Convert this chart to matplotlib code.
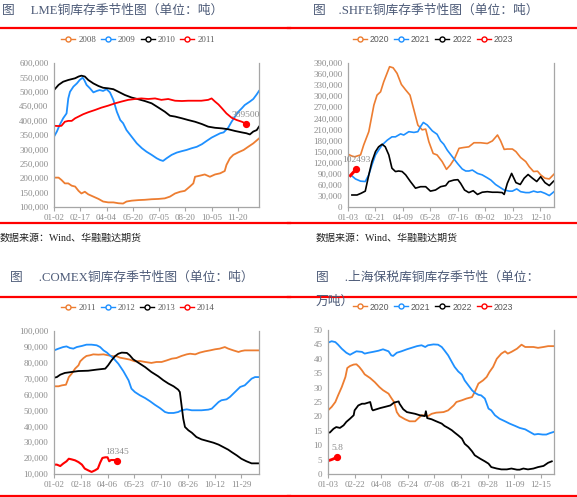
import matplotlib
matplotlib.use('Agg')
import matplotlib.pyplot as plt
from matplotlib.lines import Line2D
from matplotlib.ticker import FuncFormatter, FixedLocator
import numpy as np

# ---------------- data ----------------
# LME (x: days since 01-02, y: thousand tonnes)
lme_ticks = ['01-02', '02-17', '04-04', '05-20', '07-05', '08-20', '10-05', '11-20']
lme_2008_day = [0, 8, 13, 19, 25, 31, 37, 43, 48, 54, 60, 69, 78, 86, 95, 104, 113, 121, 127, 136,
                148, 159, 171, 183, 194, 203, 212, 221, 229, 238, 244, 247, 256, 264, 273, 282, 291, 299, 302, 308,
                314, 323, 332, 340, 349, 359]
lme_2008 = [202, 202, 194, 182, 182, 174, 171, 156, 147, 153, 144, 136, 128, 119, 116, 116, 113, 112, 119, 122,
            124, 125, 127, 128, 130, 136, 147, 153, 156, 171, 182, 205, 209, 213, 205, 213, 217, 225, 246, 269,
            281, 290, 298, 309, 321, 338]
lme_2009_day = [0, 5, 10, 16, 22, 25, 28, 34, 40, 45, 50, 53, 57, 63, 69, 75, 80, 86, 92, 98,
                104, 110, 116, 121, 127, 136, 145, 154, 162, 171, 180, 186, 191, 197, 206, 215, 224, 232, 241, 250,
                259, 267, 276, 285, 291, 297, 305, 311, 317, 323, 329, 334, 343, 349, 355, 359]
lme_2009 = [344, 362, 385, 408, 425, 477, 500, 518, 529, 541, 549, 541, 524, 512, 498, 503, 506, 503, 509, 498,
            472, 431, 402, 391, 367, 344, 321, 304, 292, 281, 269, 263, 260, 269, 281, 289, 294, 298, 304, 309,
            318, 329, 341, 350, 356, 359, 375, 396, 414, 431, 443, 454, 466, 475, 491, 503]
lme_2010_day = [0, 8, 16, 25, 37, 43, 48, 54, 60, 69, 78, 86, 95, 104, 113, 124, 136, 148, 159, 171,
                183, 194, 203, 212, 224, 235, 247, 259, 270, 282, 294, 305, 317, 329, 337, 343, 349, 355, 359]
lme_2010 = [506, 524, 535, 541, 547, 553, 556, 553, 541, 529, 520, 514, 512, 509, 500, 489, 480, 474, 468, 460,
            445, 431, 417, 414, 408, 402, 396, 388, 379, 375, 373, 370, 364, 359, 356, 352, 362, 367, 379]
lme_2011_day = [0, 8, 13, 19, 25, 31, 37, 43, 51, 60, 72, 83, 95, 107, 118, 130, 142, 153, 165, 177,
                188, 200, 212, 224, 235, 247, 258, 270, 276, 282, 288, 294, 302, 311, 320, 329, 336]
lme_2011 = [382, 381, 382, 396, 399, 399, 408, 414, 422, 429, 437, 445, 452, 460, 466, 472, 475, 477, 475, 477,
            472, 475, 469, 468, 469, 469, 469, 472, 477, 466, 456, 443, 425, 410, 402, 396, 389.5]

# SHFE (x: weeks since 01-03, y: thousand tonnes)
shfe_ticks = ['01-03', '02-21', '04-09', '05-28', '07-16', '09-02', '10-23', '12-10']
shfe_2020_wk = [0, 1, 1.7, 3.2, 4, 5.3, 6.6, 7.4, 8.3, 9.1, 10.6, 11.5, 12.5, 13.6, 14.7, 15.8, 16.8, 17.8, 18.9, 19.8,
                20.6, 21.7, 22.7, 24, 25.1, 26.1, 27.2, 28.3, 29.4, 30.8, 32.1, 33.8, 35.5, 36.8, 38.1, 38.9, 39.8,
                40.6, 41.9, 42.8, 44, 45.3, 46.2, 47.3, 48.3, 49.1, 50.2, 51.3, 52.5]
shfe_2020 = [143, 138, 136, 141, 168, 204, 276, 303, 312, 339, 380, 377, 362, 332, 317, 303, 263, 222, 209, 211,
             177, 145, 141, 123, 102, 114, 132, 159, 161, 163, 174, 174, 172, 179, 195, 179, 156, 157, 157, 150,
             134, 123, 109, 96, 97, 87, 78, 76, 89]
shfe_2021_wk = [0.8, 1.9, 3.2, 4.4, 5.3, 6.1, 7, 7.8, 8.7, 10, 11.2, 12.1, 13.4, 14.2, 15.5, 16.8, 17.8, 18.5, 19.2, 20.2,
                21.5, 22.7, 23.6, 24.4, 25.3, 26.6, 27.9, 29.1, 30, 30.8, 31.7, 33, 34.2, 35.5, 36.4, 37.6, 38.9, 39.8,
                41.1, 41.9, 43, 44, 45.3, 46.2, 47.3, 48.3, 49.1, 50.2, 51.3, 52.5]
shfe_2021 = [86, 76, 70, 69, 87, 114, 141, 154, 168, 181, 190, 190, 198, 195, 204, 202, 204, 218, 229, 222,
             206, 197, 179, 170, 154, 136, 118, 103, 97.5, 97.5, 100, 91, 87, 79, 73, 61, 52, 46, 43, 43,
             49, 41.5, 39, 39, 43, 40, 41.5, 37, 31, 41.5]
shfe_2022_wk = [1, 2.3, 3.3, 4.4, 5.3, 6.1, 7, 7.8, 8.7, 9.5, 10.4, 11.2, 12.1, 12.9, 13.8, 14.7, 15.9, 17.2, 18.5, 19.8,
                21, 22.3, 23.6, 24.9, 25.7, 27, 28, 28.7, 29.7, 30.8, 31.9, 33, 34.2, 35.5, 36.8, 38.1, 39.3, 39.8,
                40.6, 41.7, 42.8, 43.9, 44.9, 45.9, 47, 48.1, 49.1, 50.2, 51.3, 52.4]
shfe_2022 = [32.5, 32.5, 37, 43, 87, 123, 150, 163, 170, 163, 141, 105, 96, 97.5, 96, 87, 69, 51, 55, 55,
             43, 46, 55, 58, 69, 73, 74, 64, 46, 39, 44, 34, 40, 41.5, 40, 40, 39, 34, 64, 91,
             66, 61, 78, 88, 78, 69, 82, 66, 58, 70]
shfe_2023_wk = [0.6, 2.1]
shfe_2023 = [85, 102.493]

# COMEX (x: days since 01-02, y: thousand tonnes)
comex_ticks = ['01-02', '02-18', '04-06', '05-23', '07-10', '08-26', '10-12', '11-29']
comex_2011_day = [0, 8, 14, 21, 24, 26, 31, 37, 43, 46, 52, 57, 63, 69, 78, 87, 95, 104, 110, 116,
                  125, 133, 142, 151, 160, 171, 180, 189, 198, 207, 215, 224, 233, 239, 248, 256, 265, 274, 283, 291,
                  300, 306, 315, 324, 329, 335, 344, 359]
comex_2011 = [65.2, 65.2, 65.8, 66.2, 69.0, 71.0, 73.1, 76.3, 78.4, 80.9, 83.0, 84.3, 84.7, 85.3, 85.1, 85.3, 84.7,
              84.1, 84.1, 83.2, 82.6, 82.0, 80.9, 81.1, 80.5, 79.9, 80.5, 80.5, 81.5, 82.6, 83.0, 84.3, 85.3, 85.7,
              85.3, 86.4, 87.2, 87.8, 88.5, 88.9, 89.9, 88.9, 87.8, 86.8, 87.4, 87.8, 87.8, 87.8]
comex_2012_day = [0, 8, 16, 22, 28, 34, 40, 49, 57, 66, 75, 81, 87, 93, 98, 104, 113, 122, 131, 136,
                  142, 151, 160, 169, 177, 186, 195, 201, 210, 218, 224, 233, 242, 250, 259, 271, 277, 283, 289, 294,
                  303, 309, 315, 321, 327, 335, 341, 347, 353, 359]
comex_2012 = [87.8, 88.9, 89.9, 90.3, 89.3, 88.9, 89.9, 90.6, 91.4, 91.4, 91.0, 89.9, 87.8, 86.4, 84.7, 83.0, 79.4,
              74.6, 68.9, 63.7, 61.6, 59.5, 57.8, 55.7, 53.6, 51.5, 49.0, 48.4, 48.4, 49.0, 50.1, 50.7, 50.1, 50.1,
              50.1, 50.5, 51.1, 53.2, 55.3, 56.4, 57.0, 58.5, 60.6, 62.7, 64.8, 65.8, 67.9, 70.0, 71.0, 71.0]
comex_2013_day = [0, 5, 11, 19, 31, 43, 60, 75, 90, 95, 101, 107, 113, 119, 128, 133, 139, 148, 160, 171,
                  183, 192, 201, 210, 218, 221, 224, 227, 230, 236, 242, 250, 259, 271, 280, 289, 297, 306, 312, 321,
                  329, 338, 347, 359]
comex_2013 = [70.6, 71.0, 72.5, 73.6, 74.2, 74.8, 75.0, 75.7, 76.3, 78.4, 81.5, 84.1, 85.7, 86.4, 86.2, 84.7, 82.2,
              80.1, 77.3, 74.2, 71.5, 69.0, 66.9, 65.2, 63.1, 61.6, 53.2, 44.8, 39.6, 37.5, 36.0, 33.3, 31.8, 30.6,
              29.7, 28.5, 27.0, 25.3, 23.8, 21.7, 19.6, 18.0, 16.7, 16.7]
comex_2014_day = [0, 5, 11, 16, 22, 26, 31, 37, 43, 49, 54, 60, 66, 72, 77, 81, 85, 90, 94, 97, 100, 104, 107, 111]
comex_2014 = [15.9, 15.9, 15.0, 16.5, 18.0, 19.6, 19.2, 18.6, 17.5, 15.9, 13.4, 12.3, 11.3, 12.3, 13.4, 17.1, 20.1,
              20.5, 20.5, 18.0, 18.8, 18.8, 18.8, 18.345]

# Shanghai bonded (x: trading-day index, y: 10k tonnes)
sh_ticks = ['01-03', '02-22', '04-08', '05-24', '07-08', '08-21', '09-28', '11-09', '12-15']
sh_2020_idx = [0, 4, 8, 11, 15, 19, 21, 24, 28, 31, 34, 37, 40, 46, 51, 56, 60, 66, 69, 72,
               75, 78, 84, 89, 95, 98, 102, 106, 109, 113, 118, 126, 131, 137, 140, 146, 151, 157, 160, 164,
               169, 173, 176, 180, 184, 189, 193, 196, 200, 206, 211, 215, 218, 224, 229, 235, 240, 246]
sh_2020 = [22.1, 23.3, 25.0, 27.3, 30.2, 33.7, 36.8, 37.5, 38.0, 38.1, 37.2, 36.0, 34.6, 33.3, 31.9, 30.2, 29.1,
           27.9, 26.4, 25.0, 21.5, 20.1, 19.0, 18.3, 18.3, 19.2, 20.4, 20.4, 20.1, 20.9, 21.3, 21.5, 22.1, 23.8,
           25.0, 25.6, 26.2, 26.7, 28.5, 31.4, 32.5, 33.7, 35.4, 37.2, 40.0, 41.8, 42.6, 41.8, 42.4, 43.5, 44.9,
           44.1, 44.1, 44.1, 43.8, 44.1, 44.4, 44.4]
sh_2021_idx = [0, 4, 8, 11, 15, 20, 24, 28, 31, 37, 40, 44, 49, 55, 60, 66, 69, 71, 75, 80,
               86, 91, 97, 102, 106, 109, 115, 120, 124, 127, 131, 135, 138, 142, 146, 149, 153, 157, 160, 164,
               167, 171, 175, 178, 182, 187, 193, 198, 204, 209, 215, 220, 225, 229, 234, 238, 242, 246]
sh_2021 = [45.6, 46.1, 45.8, 44.9, 43.5, 42.1, 41.4, 42.1, 42.6, 42.4, 41.8, 42.1, 42.4, 42.8, 43.3, 42.6, 41.2,
           41.0, 42.1, 42.6, 43.3, 43.8, 44.4, 44.7, 44.1, 44.7, 45.0, 44.9, 44.1, 42.9, 41.2, 38.9, 37.2, 35.6,
           34.5, 32.5, 30.8, 29.1, 28.2, 27.5, 27.3, 26.2, 22.7, 22.1, 20.4, 19.2, 18.3, 17.5, 16.7, 16.0, 15.5,
           14.6, 13.7, 13.9, 13.7, 13.7, 14.2, 14.6]
sh_2022_idx = [0, 2, 6, 9, 13, 17, 20, 24, 28, 29, 33, 37, 40, 44, 46, 48, 49, 53, 57, 62,
               68, 72, 77, 78, 82, 86, 89, 95, 100, 105.6, 106.7, 108.2, 113, 118, 124, 127, 131, 135, 138, 142,
               146, 149, 153, 157, 160, 166, 171, 175, 178, 184, 189, 195, 200, 206, 209, 213, 218, 224, 229, 235,
               240, 244]
sh_2022 = [14.4, 14.4, 15.7, 16.3, 16.0, 16.9, 18.1, 19.2, 20.4, 22.1, 23.8, 24.4, 24.4, 24.8, 25.0, 22.5, 22.1,
           22.5, 22.9, 23.3, 23.8, 24.8, 25.2, 24.4, 22.5, 21.5, 21.3, 20.9, 20.4, 20.1, 21.8, 19.4, 19.0, 18.3,
           17.5, 16.7, 16.0, 15.2, 14.4, 13.4, 12.3, 10.5, 9.4, 7.9, 6.5, 5.3, 4.4, 3.6, 2.4, 1.9, 1.6, 1.6, 1.9,
           1.5, 1.5, 1.9, 1.6, 1.9, 2.4, 2.8, 3.9, 4.4]
sh_2023_idx = [0, 4, 7, 10]
sh_2023 = [4.6, 5.0, 5.4, 5.8]

# ---------------- style ----------------
ORANGE = '#ED7D31'
BLUE = '#1E90FF'
BLACK = '#000000'
RED = '#FF0000'
TITLE_C = '#4d5b78'
TICK_C = '#8c8c8c'
SPINE_C = '#a6a6a6'
SERIF = ['Liberation Serif', 'Noto Sans CJK SC']
CJK = ['Liberation Serif', 'Noto Sans CJK SC']

W, H = 577, 497
fig = plt.figure(figsize=(W / 100, H / 100), dpi=100)
fig.patch.set_facecolor('white')


def fx(px):
    return px / W


def fy(py):
    return 1 - py / H


def hline(x0, x1, y):
    fig.add_artist(Line2D([fx(x0), fx(x1)], [fy(y), fy(y)], color=RED, lw=1.6,
                          transform=fig.transFigure))


def make_ax(l, r, t, b):
    ax = fig.add_axes([fx(l), fy(b), fx(r) - fx(l), fy(t) - fy(b)])
    ax.spines['top'].set_visible(False)
    for s in ('left', 'right', 'bottom'):
        ax.spines[s].set_color(SPINE_C)
        ax.spines[s].set_linewidth(0.9)
    ax.tick_params(axis='y', length=0, pad=4, labelsize=6.5, labelcolor=TICK_C)
    ax.tick_params(axis='x', length=3, width=0.8, color=SPINE_C, direction='out',
                   pad=2, labelsize=6.5, labelcolor=TICK_C)
    for lab in ax.get_xticklabels() + ax.get_yticklabels():
        lab.set_family(SERIF)
    return ax


def set_fonts(ax):
    for lab in ax.get_xticklabels() + ax.get_yticklabels():
        lab.set_fontfamily(SERIF)


def legend(labels, colors, cx, cy, family):
    handles = [Line2D([], [], color=c, lw=1.0, marker='o', mfc='white', mec=c, ms=3.6, mew=1.0)
               for c in colors]
    fig.legend(handles, labels, loc='center', bbox_to_anchor=(fx(cx), fy(cy)), ncol=4,
               frameon=False, handlelength=1.6, handletextpad=0.35, columnspacing=0.55,
               borderpad=0, prop={'family': family, 'size': 6.3}, labelcolor='#595959')


def end_label(ax, x, y, text):
    ax.plot([x], [y], 'o', color=RED, ms=4.2, zorder=6)
    ax.annotate(text, xy=(x, y), xytext=(0, 3.5), textcoords='offset points', ha='center',
                va='bottom', fontsize=6.8, color=TICK_C, family=SERIF)


comma = FuncFormatter(lambda v, p: f'{int(round(v)):,}')

# ---------------- LME ----------------
ax1 = make_ax(54, 259, 63, 207)
k = 1000
ax1.plot(lme_2008_day, np.array(lme_2008) * k, color=ORANGE, lw=1.3)
ax1.plot(lme_2009_day, np.array(lme_2009) * k, color=BLUE, lw=1.3)
ax1.plot(lme_2010_day, np.array(lme_2010) * k, color=BLACK, lw=1.3)
ax1.plot(lme_2011_day, np.array(lme_2011) * k, color=RED, lw=1.3)
end_label(ax1, lme_2011_day[-1], lme_2011[-1] * k, f'{int(lme_2011[-1] * k)}')
ax1.set_xlim(0, 359)
ax1.set_ylim(100000, 600000)
ax1.set_yticks(np.arange(100000, 600001, 50000))
ax1.yaxis.set_major_formatter(comma)
ax1.set_xticks([46 * i for i in range(len(lme_ticks))])
ax1.set_xticklabels(lme_ticks)
set_fonts(ax1)

# ---------------- SHFE ----------------
ax2 = make_ax(348, 554, 63, 207)
ax2.plot(shfe_2020_wk, np.array(shfe_2020) * k, color=ORANGE, lw=1.2)
ax2.plot(shfe_2021_wk, np.array(shfe_2021) * k, color=BLUE, lw=1.2)
ax2.plot(shfe_2022_wk, np.array(shfe_2022) * k, color=BLACK, lw=1.2)
ax2.plot(shfe_2023_wk, np.array(shfe_2023) * k, color=RED, lw=2.2)
end_label(ax2, shfe_2023_wk[-1], shfe_2023[-1] * k, f'{int(round(shfe_2023[-1] * k))}')
ax2.set_xlim(0, 52.5)
ax2.set_ylim(0, 390000)
ax2.set_yticks(np.arange(0, 390001, 30000))
ax2.yaxis.set_major_formatter(comma)
ax2.set_xticks([7 * i for i in range(len(shfe_ticks))])
ax2.set_xticklabels(shfe_ticks)
set_fonts(ax2)

# ---------------- COMEX ----------------
ax3 = make_ax(54, 259, 331, 474)
ax3.plot(comex_2011_day, np.array(comex_2011) * k, color=ORANGE, lw=1.3)
ax3.plot(comex_2012_day, np.array(comex_2012) * k, color=BLUE, lw=1.3)
ax3.plot(comex_2013_day, np.array(comex_2013) * k, color=BLACK, lw=1.3)
ax3.plot(comex_2014_day, np.array(comex_2014) * k, color=RED, lw=1.5)
end_label(ax3, comex_2014_day[-1], comex_2014[-1] * k, f'{int(round(comex_2014[-1] * k))}')
ax3.set_xlim(0, 360)
ax3.set_ylim(10000, 100000)
ax3.set_yticks(np.arange(10000, 100001, 10000))
ax3.yaxis.set_major_formatter(comma)
ax3.set_xticks([47 * i for i in range(len(comex_ticks))])
ax3.set_xticklabels(comex_ticks)
set_fonts(ax3)

# ---------------- Shanghai bonded ----------------
ax4 = make_ax(328, 554, 330, 474)
ax4.plot(sh_2020_idx, sh_2020, color=ORANGE, lw=1.3)
ax4.plot(sh_2021_idx, sh_2021, color=BLUE, lw=1.3)
ax4.plot(sh_2022_idx, sh_2022, color=BLACK, lw=1.3)
ax4.plot(sh_2023_idx, sh_2023, color=RED, lw=2.0)
end_label(ax4, sh_2023_idx[-1], sh_2023[-1], f'{sh_2023[-1]:.1f}')
ax4.set_xlim(0, 246.4)
ax4.set_ylim(0, 50)
ax4.set_yticks(np.arange(0, 51, 5))
ax4.set_xticks([29 * i for i in range(len(sh_ticks))])
ax4.set_xticklabels(sh_ticks)
set_fonts(ax4)

# ---------------- titles, separators, legends, sources ----------------
tkw = dict(fontsize=9.2, color=TITLE_C, va='center', ha='left', family=CJK)
fig.text(fx(2), fy(11), '图\u3000 LME铜库存季节性图（单位：吨）', **tkw)
fig.text(fx(313), fy(11), '图\u3000.SHFE铜库存季节性图（单位：吨）', **tkw)
fig.text(fx(10), fy(278), '图\u3000 .COMEX铜库存季节性图（单位：吨）', **tkw)
fig.text(fx(316), fy(278), '图\u3000 .上海保税库铜库存季节性（单位：', **tkw)
fig.text(fx(316), fy(302), '万吨）', **tkw)

hline(0, 290, 27.5)
hline(288, 577, 28.3)
hline(0, 290, 222.7)
hline(288, 577, 222.7)
hline(0, 290, 296.7)
hline(288, 577, 296.7)
hline(0, 290, 496)
hline(288, 577, 496)

legend(['2008', '2009', '2010', '2011'], [ORANGE, BLUE, BLACK, RED], 138, 40, 'Liberation Serif')
legend(['2020', '2021', '2022', '2023'], [ORANGE, BLUE, BLACK, RED], 433, 40, 'Liberation Sans')
legend(['2011', '2012', '2013', '2014'], [ORANGE, BLUE, BLACK, RED], 138, 308, 'Liberation Serif')
legend(['2020', '2021', '2022', '2023'], [ORANGE, BLUE, BLACK, RED], 433, 307, 'Liberation Sans')

skw = dict(fontsize=7.2, color='#222222', va='center', ha='left', family=CJK)
fig.text(fx(0), fy(238), '数据来源：Wind、华融融达期货', **skw)
fig.text(fx(316), fy(238), '数据来源：Wind、华融融达期货', **skw)

fig.savefig('out.png', dpi=100, facecolor='white')
